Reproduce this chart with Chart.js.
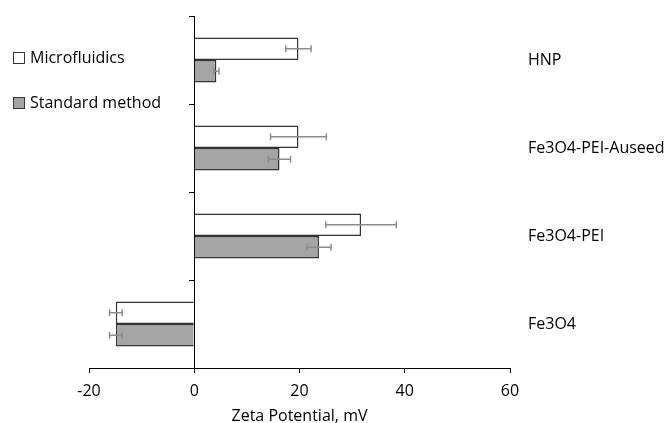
<!DOCTYPE html>
<html>
<head>
<meta charset="utf-8">
<script src="https://cdn.jsdelivr.net/npm/chart.js@4.4.1/dist/chart.umd.min.js"></script>
<style>
  html, body { margin: 0; padding: 0; background: #fff; }
  #wrap { position: relative; width: 669px; height: 423px; }
</style>
</head>
<body>
<div id="wrap"><canvas id="zetaChart"></canvas></div>
<script>
Chart.defaults.font.family = "'Open Sans', sans-serif";
Chart.defaults.color = '#000';

// data
const categories = ['HNP', 'Fe3O4-PEI-Auseed', 'Fe3O4-PEI', 'Fe3O4'];
const microValues = [19.8, 19.8, 31.7, -14.9];
const microErrors = [2.4, 5.3, 6.7, 1.2];
const standardValues = [4.2, 16.2, 23.7, -14.9];
const standardErrors = [0.5, 2.1, 2.3, 1.2];
const xTicks = [-20, 0, 20, 40, 60];

const errorSets = [microErrors, standardErrors];

// horizontal error bars drawn through the x scale
const errorBars = {
  id: 'errorBars',
  afterDatasetsDraw(chart) {
    const ctx = chart.ctx;
    const xs = chart.scales.x;
    ctx.save();
    ctx.strokeStyle = '#8c8c8c';
    ctx.lineWidth = 1.5;
    chart.data.datasets.forEach((ds, di) => {
      const meta = chart.getDatasetMeta(di);
      meta.data.forEach((bar, i) => {
        const v = ds.data[i];
        const e = errorSets[di][i];
        const x1 = xs.getPixelForValue(v - e);
        const x2 = xs.getPixelForValue(v + e);
        const y = bar.y;
        ctx.beginPath();
        ctx.moveTo(x1, y); ctx.lineTo(x2, y);
        ctx.moveTo(x1, y - 3.5); ctx.lineTo(x1, y + 3.5);
        ctx.moveTo(x2, y - 3.5); ctx.lineTo(x2, y + 3.5);
        ctx.stroke();
      });
    });
    ctx.restore();
  },
};

// legend sitting in the upper left, like the original
const sideLegend = {
  id: 'sideLegend',
  afterDraw(chart) {
    const ctx = chart.ctx;
    ctx.save();
    ctx.font = "16px 'Open Sans', sans-serif";
    ctx.textBaseline = 'middle';
    chart.data.datasets.forEach((ds, i) => {
      const y = 58 + i * 45;
      ctx.fillStyle = ds.backgroundColor;
      ctx.fillRect(13.5, y - 5.5, 11, 11);
      ctx.strokeStyle = '#333';
      ctx.lineWidth = 1;
      ctx.strokeRect(13.5, y - 5.5, 11, 11);
      ctx.fillStyle = '#000';
      ctx.fillText(ds.label, 30, y);
    });
    ctx.restore();
  },
};

new Chart(document.getElementById('zetaChart'), {
  type: 'bar',
  data: {
    labels: categories,
    datasets: [
      {
        label: 'Microfluidics',
        data: microValues,
        backgroundColor: '#ffffff',
        borderColor: '#333333',
        borderWidth: 1.5,
      },
      {
        label: 'Standard method',
        data: standardValues,
        backgroundColor: '#a5a5a5',
        borderColor: '#333333',
        borderWidth: 1.5,
      },
    ],
  },
  plugins: [errorBars, sideLegend],
  options: {
    indexAxis: 'y',
    responsive: true,
    maintainAspectRatio: false,
    animation: false,
    categoryPercentage: 0.51,
    barPercentage: 1,
    layout: { padding: { left: 89, top: 16, right: 0, bottom: -3 } },
    plugins: {
      legend: { display: false },
      tooltip: { enabled: false },
    },
    scales: {
      x: {
        min: -20,
        max: 60,
        afterBuildTicks: (s) => { s.ticks = xTicks.map((v) => ({ value: v })); },
        grid: { drawOnChartArea: false, tickLength: 5, color: '#000' },
        border: { color: '#000', width: 1 },
        ticks: { font: { size: 16 }, padding: 9 },
        title: { display: true, text: 'Zeta Potential, mV', font: { size: 16 }, padding: { top: 2, bottom: 0 } },
        afterFit: (s) => { s.height = 58; s.paddingLeft = 0; s.paddingRight = 0; },
      },
      y: {
        position: { x: 0 },
        offset: true,
        ticks: { display: false },
        grid: { drawOnChartArea: false, tickLength: 5, color: '#000', offset: true },
        border: { color: '#000', width: 1 },
      },
      y2: {
        type: 'category',
        position: 'right',
        offset: true,
        grid: { display: false, drawTicks: false },
        border: { display: false },
        ticks: { font: { size: 16 }, padding: 18 },
        afterFit: (s) => { s.width = 159; s.paddingTop = 0; s.paddingBottom = 0; },
      },
    },
  },
});
</script>
</body>
</html>
